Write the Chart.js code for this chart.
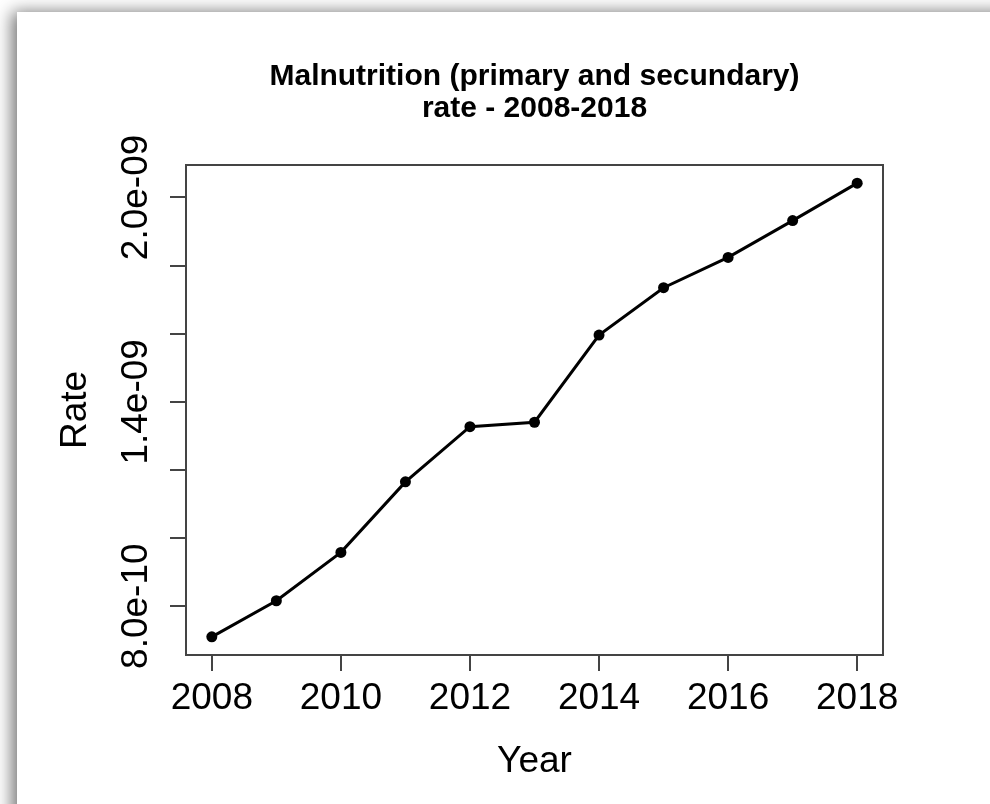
<!DOCTYPE html>
<html>
<head>
<meta charset="utf-8">
<script src="https://cdn.jsdelivr.net/npm/chart.js@4/dist/chart.umd.min.js"></script>
<style>
  html, body { margin: 0; padding: 0; background: #fff; width: 990px; height: 804px; overflow: hidden; }
  #sheet { position: absolute; left: 17px; top: 12px; width: 1000px; height: 820px; background: #fff;
           box-shadow: -5px 0 16px rgba(0, 0, 0, 0.55); }
  #chart { position: absolute; left: 0; top: 0; }
</style>
</head>
<body>
<div id="sheet"></div>
<canvas id="chart" width="990" height="804"></canvas>
<script>
// Malnutrition (primary and secondary) rate by year
const years = [2008, 2009, 2010, 2011, 2012, 2013, 2014, 2015, 2016, 2017, 2018];
const rates = [0.710e-9, 0.816e-9, 0.958e-9, 1.165e-9, 1.327e-9, 1.340e-9,
               1.596e-9, 1.735e-9, 1.824e-9, 1.932e-9, 2.042e-9];

const xTickValues = [2008, 2010, 2012, 2014, 2016, 2018];
const yTickValues = [0.8e-9, 1.0e-9, 1.2e-9, 1.4e-9, 1.6e-9, 1.8e-9, 2.0e-9];
const yTickLabels = ['8.0e-10', '', '', '1.4e-09', '', '', '2.0e-09'];

// axis ranges padded by 4% of the data span on each side
function paddedRange(values) {
  const lo = Math.min(...values), hi = Math.max(...values);
  const pad = (hi - lo) * 0.04;
  return [lo - pad, hi + pad];
}
const [xMin, xMax] = paddedRange(years);
const [yMin, yMax] = paddedRange(rates);

const FONT = '"Liberation Sans", Arial, Helvetica, sans-serif';
const INK = '#000';
const AXIS = '#444';

// box drawn round the plotting region
const plotFrame = {
  id: 'plotFrame',
  afterDraw(chart) {
    const { ctx, chartArea: a } = chart;
    ctx.save();
    ctx.strokeStyle = AXIS;
    ctx.lineWidth = 2;
    ctx.strokeRect(a.left, a.top, a.right - a.left, a.bottom - a.top);
    ctx.restore();
  }
};

new Chart(document.getElementById('chart'), {
  type: 'line',
  data: {
    datasets: [{
      data: years.map((y, i) => ({ x: y, y: rates[i] })),
      borderColor: '#000',
      borderWidth: 3,
      pointRadius: 5.5,
      pointBackgroundColor: '#000',
      pointBorderColor: '#000',
      pointBorderWidth: 0,
      tension: 0
    }]
  },
  options: {
    responsive: false,
    animation: false,
    layout: { padding: { left: 0, right: 107, top: 0, bottom: 0 } },
    plugins: {
      legend: { display: false },
      tooltip: { enabled: false },
      title: {
        display: true,
        fullSize: false,
        text: ['Malnutrition (primary and secundary)', 'rate - 2008-2018'],
        color: INK,
        font: { family: FONT, size: 30, weight: 'bold', lineHeight: '32px' },
        padding: { top: 60.5, bottom: 40.5 }
      }
    },
    scales: {
      x: {
        type: 'linear',
        min: xMin,
        max: xMax,
        afterBuildTicks(scale) { scale.ticks = xTickValues.map(v => ({ value: v })); },
        afterFit(scale) { scale.height = 149; },
        ticks: {
          color: INK,
          font: { family: FONT, size: 37, lineHeight: 1.2 },
          padding: 6,
          maxRotation: 0,
          autoSkip: false,
          callback: v => String(v)
        },
        grid: { display: true, drawOnChartArea: false, drawTicks: true, tickLength: 16, color: AXIS, lineWidth: 2 },
        border: { display: false },
        title: {
          display: true,
          text: 'Year',
          color: INK,
          font: { family: FONT, size: 37, lineHeight: 1.2 },
          padding: { top: 0, bottom: 20 }
        }
      },
      y: {
        type: 'linear',
        min: yMin,
        max: yMax,
        afterBuildTicks(scale) { scale.ticks = yTickValues.map(v => ({ value: v })); },
        afterFit(scale) { scale.width = 186; },
        ticks: {
          color: INK,
          font: { family: FONT, size: 37, lineHeight: 1.2 },
          minRotation: 90,
          maxRotation: 90,
          crossAlign: 'center',
          padding: -30,
          autoSkip: false,
          callback: (v, i) => yTickLabels[i]
        },
        grid: { display: true, drawOnChartArea: false, drawTicks: true, tickLength: 16, color: AXIS, lineWidth: 2 },
        border: { display: false },
        title: {
          display: true,
          text: 'Rate',
          color: INK,
          font: { family: FONT, size: 37, lineHeight: 1.2 },
          padding: { top: 54, bottom: 0 }
        }
      }
    }
  },
  plugins: [plotFrame]
});
</script>
</body>
</html>
